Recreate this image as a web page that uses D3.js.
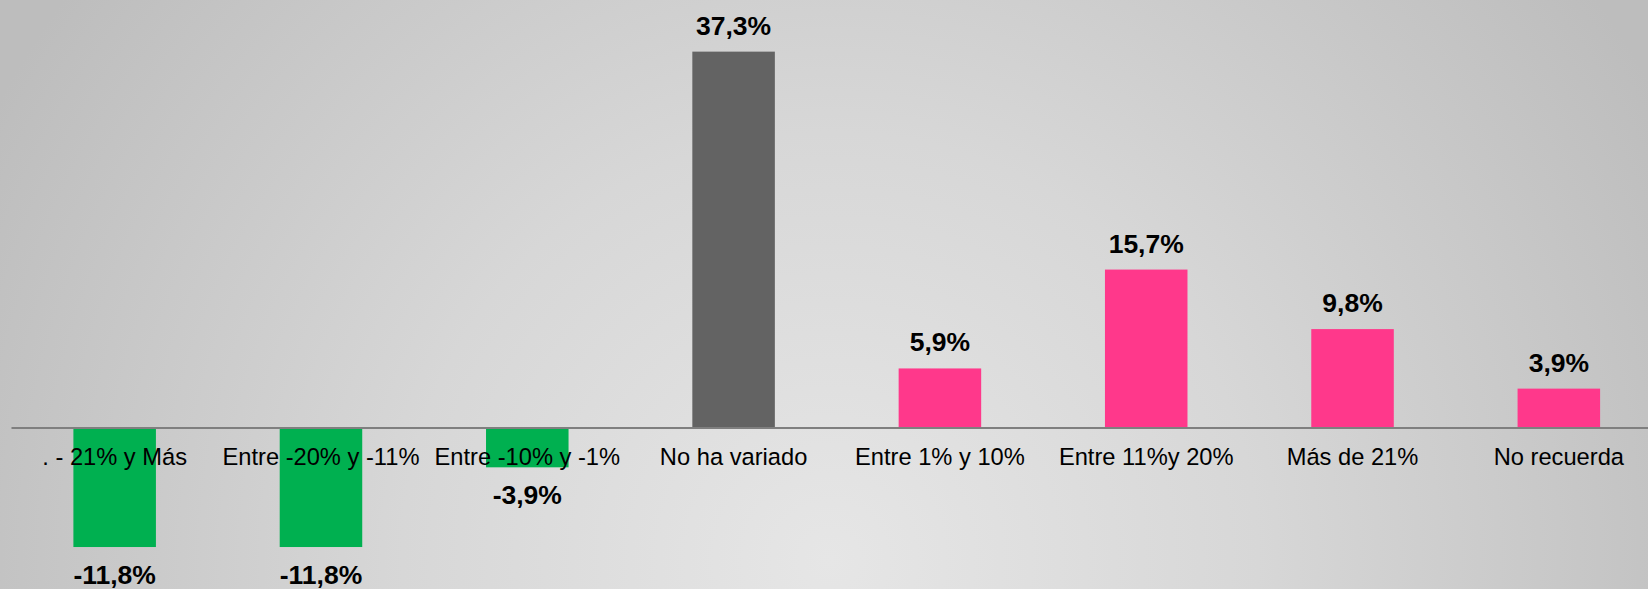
<!DOCTYPE html>
<html>
  <head>
    <meta http-equiv="Content-Type" content="text/html;charset=utf-8" />
    <title>Variación</title>
    <script type="text/javascript" src="https://d3js.org/d3.v7.min.js"></script>
    <style>
      body { margin: 0; padding: 0; overflow: hidden; }
      text { font-family: "Liberation Sans", Arial, sans-serif; }
    </style>
  </head>
  <body>
    <div id="chart"></div>

    <script type="text/javascript">
      var categories = [
        ". - 21% y Más",
        "Entre -20% y -11%",
        "Entre -10% y -1%",
        "No ha variado",
        "Entre 1% y 10%",
        "Entre 11%y 20%",
        "Más de 21%",
        "No recuerda"
      ];
      var values = [-11.8, -11.8, -3.9, 37.3, 5.9, 15.7, 9.8, 3.9];
      var labels = ["-11,8%", "-11,8%", "-3,9%", "37,3%", "5,9%", "15,7%", "9,8%", "3,9%"];

      var width = 1648;
      var height = 589;

      var data = categories.map((c, i) => ({ cat: c, value: values[i], label: labels[i] }));

      var svg = d3
        .select("#chart")
        .append("svg")
        .attr("width", width)
        .attr("height", height);

      // background
      var defs = svg.append("defs");
      var bg = defs
        .append("radialGradient")
        .attr("id", "bgGrad")
        .attr("gradientUnits", "userSpaceOnUse")
        .attr("cx", 830)
        .attr("cy", 560)
        .attr("r", 950);
      bg.append("stop").attr("offset", "0%").attr("stop-color", "#e6e6e6");
      bg.append("stop").attr("offset", "45%").attr("stop-color", "#d7d7d7");
      bg.append("stop").attr("offset", "100%").attr("stop-color", "#bdbdbd");

      svg
        .append("rect")
        .attr("width", width)
        .attr("height", height)
        .attr("fill", "url(#bgGrad)");

      var x = d3
        .scaleBand()
        .domain(categories)
        .range([11.5, 1662])
        .paddingInner(0.6)
        .paddingOuter(0.3);

      var y = d3.scaleLinear().domain([-16, 40]).range([589.4, 24.4]);

      var colors = d => (d.value < 0 ? "#00b050" : d.cat == "No ha variado" ? "#636363" : "#ff388b");

      svg
        .selectAll(".bar")
        .data(data)
        .enter()
        .append("rect")
        .attr("class", "bar")
        .attr("x", d => x(d.cat))
        .attr("width", x.bandwidth())
        .attr("y", d => y(Math.max(0, d.value)))
        .attr("height", d => Math.abs(y(d.value) - y(0)))
        .attr("fill", colors);

      // baseline
      svg
        .append("line")
        .attr("x1", 11.5)
        .attr("x2", width)
        .attr("y1", y(0))
        .attr("y2", y(0))
        .attr("stroke", "#7f7f7f")
        .attr("stroke-width", 2);

      // value labels
      svg
        .selectAll(".val")
        .data(data)
        .enter()
        .append("text")
        .attr("class", "val")
        .attr("x", d => x(d.cat) + x.bandwidth() / 2)
        .attr("y", d => (d.value >= 0 ? y(d.value) - 17 : y(d.value) + 37))
        .attr("text-anchor", "middle")
        .attr("font-size", "26.5px")
        .attr("font-weight", "bold")
        .attr("fill", "#000")
        .text(d => d.label);

      // category labels
      svg
        .selectAll(".cat")
        .data(data)
        .enter()
        .append("text")
        .attr("class", "cat")
        .attr("x", d => x(d.cat) + x.bandwidth() / 2)
        .attr("y", y(0) + 37)
        .attr("text-anchor", "middle")
        .attr("font-size", "23.7px")
        .attr("fill", "#000")
        .text(d => d.cat);
    </script>
  </body>
</html>
